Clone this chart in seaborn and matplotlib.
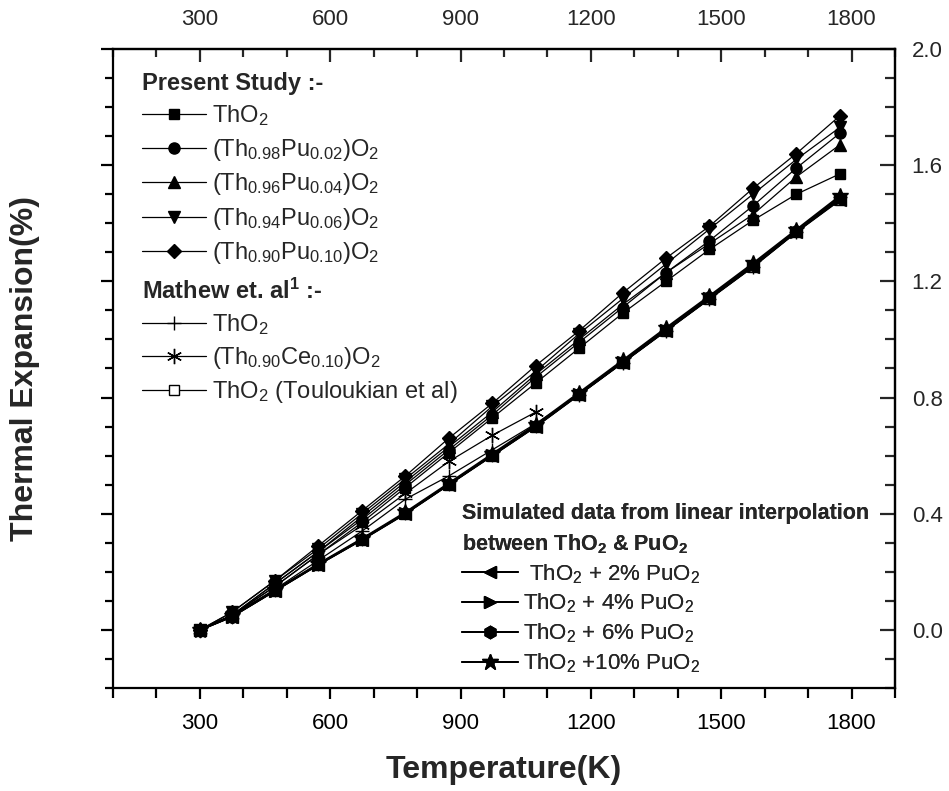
import matplotlib
matplotlib.use("Agg")
import matplotlib.pyplot as plt
from matplotlib.ticker import MultipleLocator, FixedLocator
import seaborn as sns

sns.set_theme(style="white")
plt.rcParams["font.family"] = ["Liberation Sans", "DejaVu Sans"]
plt.rcParams["mathtext.fontset"] = "custom"
plt.rcParams["mathtext.rm"] = "Liberation Sans"
plt.rcParams["mathtext.bf"] = "Liberation Sans:bold"
plt.rcParams["mathtext.default"] = "regular"

# ---------------- data ----------------
temps = [300, 373, 473, 573, 673, 773, 873, 973, 1073, 1173, 1273, 1373, 1473, 1573, 1673, 1773]

ps_tho2 = [0.00, 0.05, 0.15, 0.26, 0.37, 0.49, 0.61, 0.73, 0.85, 0.97, 1.09, 1.20, 1.31, 1.41, 1.50, 1.57]
ps_pu02 = [0.00, 0.05, 0.16, 0.27, 0.38, 0.50, 0.62, 0.74, 0.87, 0.99, 1.11, 1.23, 1.34, 1.46, 1.59, 1.71]
ps_pu04 = [0.00, 0.05, 0.16, 0.27, 0.39, 0.51, 0.63, 0.75, 0.88, 1.00, 1.12, 1.23, 1.33, 1.43, 1.56, 1.67]
ps_pu06 = [0.00, 0.06, 0.17, 0.28, 0.40, 0.52, 0.64, 0.77, 0.89, 1.02, 1.14, 1.26, 1.38, 1.50, 1.62, 1.73]
ps_pu10 = [0.00, 0.06, 0.17, 0.29, 0.41, 0.53, 0.66, 0.78, 0.91, 1.03, 1.16, 1.28, 1.39, 1.52, 1.64, 1.77]

mathew_tho2 = [0.00, 0.05, 0.14, 0.24, 0.34, 0.45, 0.53, 0.62, 0.71, 0.81, 0.92, 1.03, 1.14, 1.25, 1.37, 1.49]
mathew_ce_temps = [300, 373, 473, 573, 673, 773, 873, 973, 1073]
mathew_ce = [0.00, 0.05, 0.15, 0.26, 0.36, 0.47, 0.58, 0.67, 0.75]
touloukian = [0.00, 0.045, 0.135, 0.225, 0.31, 0.40, 0.50, 0.60, 0.70, 0.81, 0.92, 1.03, 1.14, 1.25, 1.37, 1.48]

sim02 = [0.00, 0.045, 0.135, 0.225, 0.310, 0.400, 0.500, 0.600, 0.700, 0.810, 0.920, 1.030, 1.140, 1.250, 1.370, 1.480]
sim04 = [0.00, 0.045, 0.135, 0.225, 0.311, 0.401, 0.501, 0.601, 0.701, 0.811, 0.921, 1.032, 1.142, 1.254, 1.371, 1.484]
sim06 = [0.00, 0.046, 0.136, 0.226, 0.312, 0.402, 0.502, 0.602, 0.703, 0.813, 0.923, 1.034, 1.145, 1.257, 1.373, 1.488]
sim10 = [0.00, 0.047, 0.137, 0.228, 0.314, 0.405, 0.505, 0.606, 0.707, 0.817, 0.928, 1.040, 1.150, 1.262, 1.378, 1.494]

x_ticks = [300, 600, 900, 1200, 1500, 1800]
y_ticks = [0.0, 0.4, 0.8, 1.2, 1.6, 2.0]

lab_ps = [r"ThO$_2$", r"(Th$_{0.98}$Pu$_{0.02}$)O$_2$", r"(Th$_{0.96}$Pu$_{0.04}$)O$_2$",
          r"(Th$_{0.94}$Pu$_{0.06}$)O$_2$", r"(Th$_{0.90}$Pu$_{0.10}$)O$_2$"]
lab_mathew = [r"ThO$_2$", r"(Th$_{0.90}$Ce$_{0.10}$)O$_2$", r"ThO$_2$ (Touloukian et al)"]
lab_sim = [r" ThO$_2$ + 2% PuO$_2$", r"ThO$_2$ + 4% PuO$_2$", r"ThO$_2$ + 6% PuO$_2$", r"ThO$_2$ +10% PuO$_2$"]

# ---------------- figure ----------------
W, H = 949, 791
fig = plt.figure(figsize=(W / 100, H / 100), dpi=100)
L, R, T, B = 113, 895, 49, 688
ax = fig.add_axes([L / W, 1 - B / H, (R - L) / W, (B - T) / H])

def draw(x, y, marker, ms=8, mfc="black", lw=0.9, z=3):
    sns.lineplot(x=x, y=y, ax=ax, color="black", marker=marker, markersize=ms,
                 markerfacecolor=mfc, markeredgecolor="black", markeredgewidth=1.0,
                 linewidth=lw, zorder=z, legend=False, errorbar=None, sort=False)
    return ax.lines[-1]

h_touk = draw(temps, touloukian, "s", ms=7, mfc="white", z=2)
h_mth = draw(temps, mathew_tho2, "+", ms=10, z=2)
h_mce = draw(mathew_ce_temps, mathew_ce, (6, 2, 0), ms=11, z=2)
h_s02 = draw(temps, sim02, "<", ms=9, lw=1.4)
h_s04 = draw(temps, sim04, ">", ms=9, lw=1.4)
h_s06 = draw(temps, sim06, "h", ms=9, lw=1.4)
h_s10 = draw(temps, sim10, "*", ms=12, lw=1.4)

h_p0 = draw(temps, ps_tho2, "s", ms=7.5)
h_p1 = draw(temps, ps_pu02, "o", ms=8)
h_p2 = draw(temps, ps_pu04, "^", ms=9)
h_p3 = draw(temps, ps_pu06, "v", ms=9)
h_p4 = draw(temps, ps_pu10, "D", ms=7.5)

ax.set_xlim(100, 1900)
ax.set_ylim(-0.2, 2.0)
ax.xaxis.set_major_locator(FixedLocator(x_ticks))
ax.xaxis.set_minor_locator(MultipleLocator(100))
ax.yaxis.set_major_locator(FixedLocator(y_ticks))
ax.yaxis.set_minor_locator(MultipleLocator(0.1))

for s in ax.spines.values():
    s.set_linewidth(1.6)
    s.set_color("black")

ax.tick_params(axis="x", which="both", direction="out", bottom=True, top=False,
               labelsize=16, pad=10, width=1.6, colors="black")
ax.tick_params(axis="x", which="major", length=8)
ax.tick_params(axis="x", which="minor", length=7)
ax.tick_params(axis="y", which="both", direction="out", left=True, right=False,
               labelleft=False, width=1.6, colors="black")
ax.tick_params(axis="y", which="major", length=9)
ax.tick_params(axis="y", which="minor", length=6)

secx = ax.secondary_xaxis("top")
secx.xaxis.set_major_locator(FixedLocator(x_ticks))
secx.xaxis.set_minor_locator(MultipleLocator(100))
secx.tick_params(axis="x", which="both", direction="in", labelsize=16, pad=14, width=1.6)
secx.tick_params(axis="x", which="major", length=9)
secx.tick_params(axis="x", which="minor", length=6)
secx.spines["top"].set_linewidth(1.6)

secy = ax.secondary_yaxis("right")
secy.yaxis.set_major_locator(FixedLocator(y_ticks))
secy.yaxis.set_minor_locator(MultipleLocator(0.1))
secy.yaxis.set_major_formatter(plt.FormatStrFormatter("%.1f"))
secy.tick_params(axis="y", which="both", direction="in", labelsize=16, pad=12, width=1.6)
secy.tick_params(axis="y", which="major", length=11)
secy.tick_params(axis="y", which="minor", length=7)
secy.spines["right"].set_linewidth(1.6)

ax.set_xlabel("Temperature(K)", fontsize=23, fontweight="bold")
ax.xaxis.set_label_coords(0.5, (B - 755) / (B - T))
ax.set_ylabel("Thermal Expansion(%)", fontsize=23, fontweight="bold")
ax.yaxis.set_label_coords((40 - L) / (R - L), 0.5)

def legend(handles, labels, title, x, y, fs, tfs, spacing, hl=2.7, tls=None):
    lg = ax.legend(handles, labels, title=title, loc="upper left",
                   bbox_to_anchor=(x / W, 1 - y / H), bbox_transform=fig.transFigure,
                   frameon=False, fontsize=fs, title_fontproperties={"size": tfs, "weight": "bold"},
                   alignment="left", borderpad=0, borderaxespad=0, handlelength=hl,
                   handletextpad=0.25, labelspacing=spacing)
    if tls is not None:
        lg.get_title().set_linespacing(tls)
    ax.add_artist(lg)
    return lg

legend([h_p0, h_p1, h_p2, h_p3, h_p4], lab_ps, "Present Study :-", 142, 72, 17, 17, 0.36)
legend([h_mth, h_mce, h_touk], lab_mathew, r"Mathew et. al$^1$ :-", 142, 279, 17, 17, 0.34)
legend([h_s02, h_s04, h_s06, h_s10], lab_sim,
       "Simulated data from linear interpolation\nbetween ThO$_2$ & PuO$_2$", 462, 503, 16, 15.5, 0.28,
       hl=2.5, tls=1.45)

fig.savefig("out.png", dpi=100)
